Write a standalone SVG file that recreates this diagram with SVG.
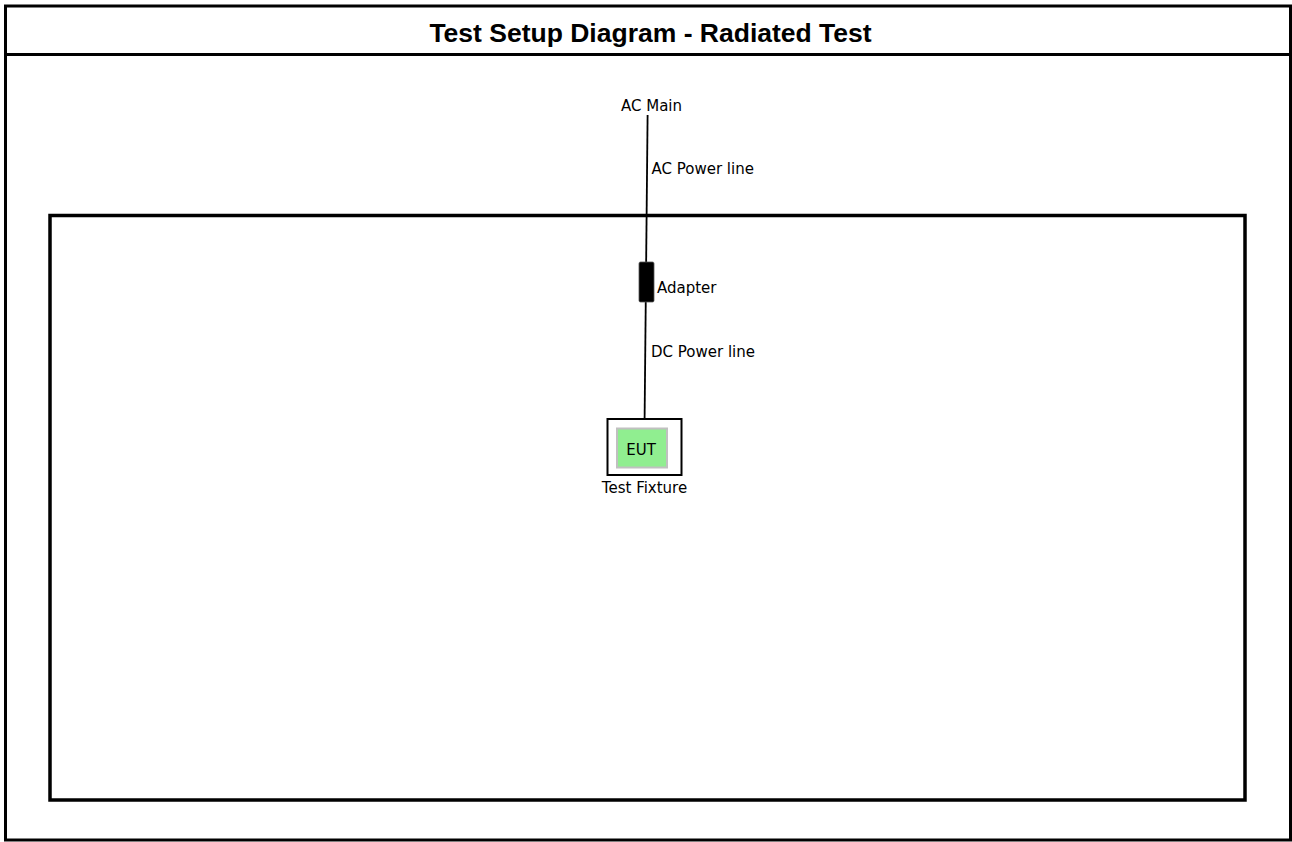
<svg xmlns="http://www.w3.org/2000/svg" width="1292" height="842" viewBox="0 0 1292 842">
<style>
.lbl{font-family:"DejaVu Sans",Verdana,sans-serif;font-size:15px;fill:#000}
.title{font-family:"Liberation Sans",Arial,sans-serif;font-size:26.5px;font-weight:bold;fill:#000}
.wire{stroke:#000;stroke-width:1.8;fill:none}
</style>
<rect width="1292" height="842" fill="#fff"/>
<g id="frame">
<rect x="5.5" y="6" width="1285" height="834" fill="none" stroke="#000" stroke-width="3"/>
<line x1="5" y1="54.5" x2="1292" y2="54.5" stroke="#000" stroke-width="3"/>
<text class="title" x="650.5" y="41.5" text-anchor="middle">Test Setup Diagram - Radiated Test</text>
</g>
<g id="chamber">
<rect x="50" y="215.5" width="1195" height="584.5" fill="none" stroke="#000" stroke-width="3.5"/>
</g>
<g id="connectors">
<line class="wire" x1="647.6" y1="115" x2="644.6" y2="419"/>
<text class="lbl" x="651.5" y="174">AC Power line</text>
<text class="lbl" x="651" y="357">DC Power line</text>
</g>
<g id="ac-main">
<text class="lbl" x="651.5" y="111" text-anchor="middle">AC Main</text>
</g>
<g id="adapter">
<rect x="639" y="262" width="15" height="40" rx="1.5" fill="#000" stroke="#555" stroke-width="0.8"/>
<text class="lbl" x="657" y="293">Adapter</text>
</g>
<g id="test-fixture">
<rect x="607.5" y="419" width="74" height="56" fill="#fff" stroke="#000" stroke-width="2"/>
<text class="lbl" x="644.5" y="493" text-anchor="middle">Test Fixture</text>
</g>
<g id="eut">
<rect x="617" y="428.5" width="50" height="39" fill="#90ee90" stroke="#c0c0c0" stroke-width="2"/>
<text class="lbl" x="641" y="455" text-anchor="middle">EUT</text>
</g>
</svg>
